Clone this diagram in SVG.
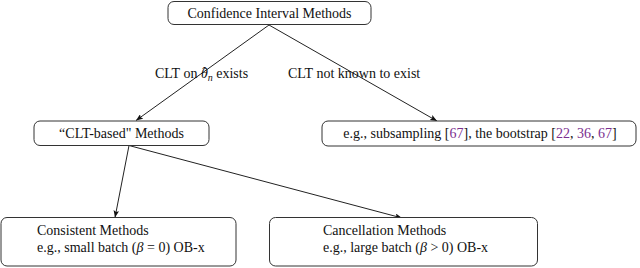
<svg xmlns="http://www.w3.org/2000/svg" width="640" height="268" viewBox="0 0 640 268">
<defs>
<style>
.box{fill:#fff;stroke:#333;stroke-width:1}
.t{font-family:"Liberation Serif","DejaVu Serif",serif;font-size:14px;fill:#111}
.i{font-style:italic}
.c{fill:#7b2f8f}
.e{stroke:#222;stroke-width:1;fill:none;marker-end:url(#ah)}
</style>
<marker id="ah" viewBox="0 0 10 8" refX="10" refY="4" markerWidth="7" markerHeight="5.6" markerUnits="userSpaceOnUse" orient="auto">
<path d="M0,0 L10,4 L0,8 L2,4 Z" fill="#111"/>
</marker>
</defs>
<rect width="640" height="268" fill="#fff"/>
<g id="connectors">
<line class="e" x1="269" y1="25" x2="136" y2="120.5"/>
<line class="e" x1="269" y1="25" x2="437" y2="121"/>
<line class="e" x1="129" y1="145.5" x2="115" y2="217.5"/>
<line class="e" x1="129" y1="145.5" x2="402" y2="218"/>
<text class="t" x="155" y="78">CLT on <tspan class="i">θ</tspan><tspan dx="-5.5" dy="-1.5">ˆ</tspan><tspan class="i" font-size="10" dx="0.8" dy="4.5">n</tspan><tspan dy="-3"> exists</tspan></text>
<text class="t" x="288" y="78">CLT not known to exist</text>
</g>
<g id="n-root">
<rect class="box" x="168" y="1.5" width="203" height="23" rx="6"/>
<text class="t" x="269.5" y="18" text-anchor="middle">Confidence Interval Methods</text>
</g>
<g id="n-clt">
<rect class="box" x="34" y="121" width="175" height="24.5" rx="6"/>
<text class="t" x="121.5" y="138" text-anchor="middle">“CLT-based" Methods</text>
</g>
<g id="n-other">
<rect class="box" x="322" y="121" width="314" height="25" rx="6"/>
<text class="t" x="480" y="138" text-anchor="middle">e.g., subsampling [<tspan class="c">67</tspan>], the bootstrap [<tspan class="c">22</tspan>, <tspan class="c">36</tspan>, <tspan class="c">67</tspan>]</text>
</g>
<g id="n-consistent">
<rect class="box" x="1" y="217.5" width="235" height="48.5" rx="6"/>
<text class="t" x="37" y="235">Consistent Methods</text>
<text class="t" x="37" y="252">e.g., small batch (<tspan class="i">β</tspan> = 0) OB-x</text>
</g>
<g id="n-cancel">
<rect class="box" x="269.5" y="217.5" width="268" height="48.5" rx="6"/>
<text class="t" x="323" y="235">Cancellation Methods</text>
<text class="t" x="323" y="252">e.g., large batch (<tspan class="i">β</tspan> &gt; 0) OB-x</text>
</g>
</svg>
